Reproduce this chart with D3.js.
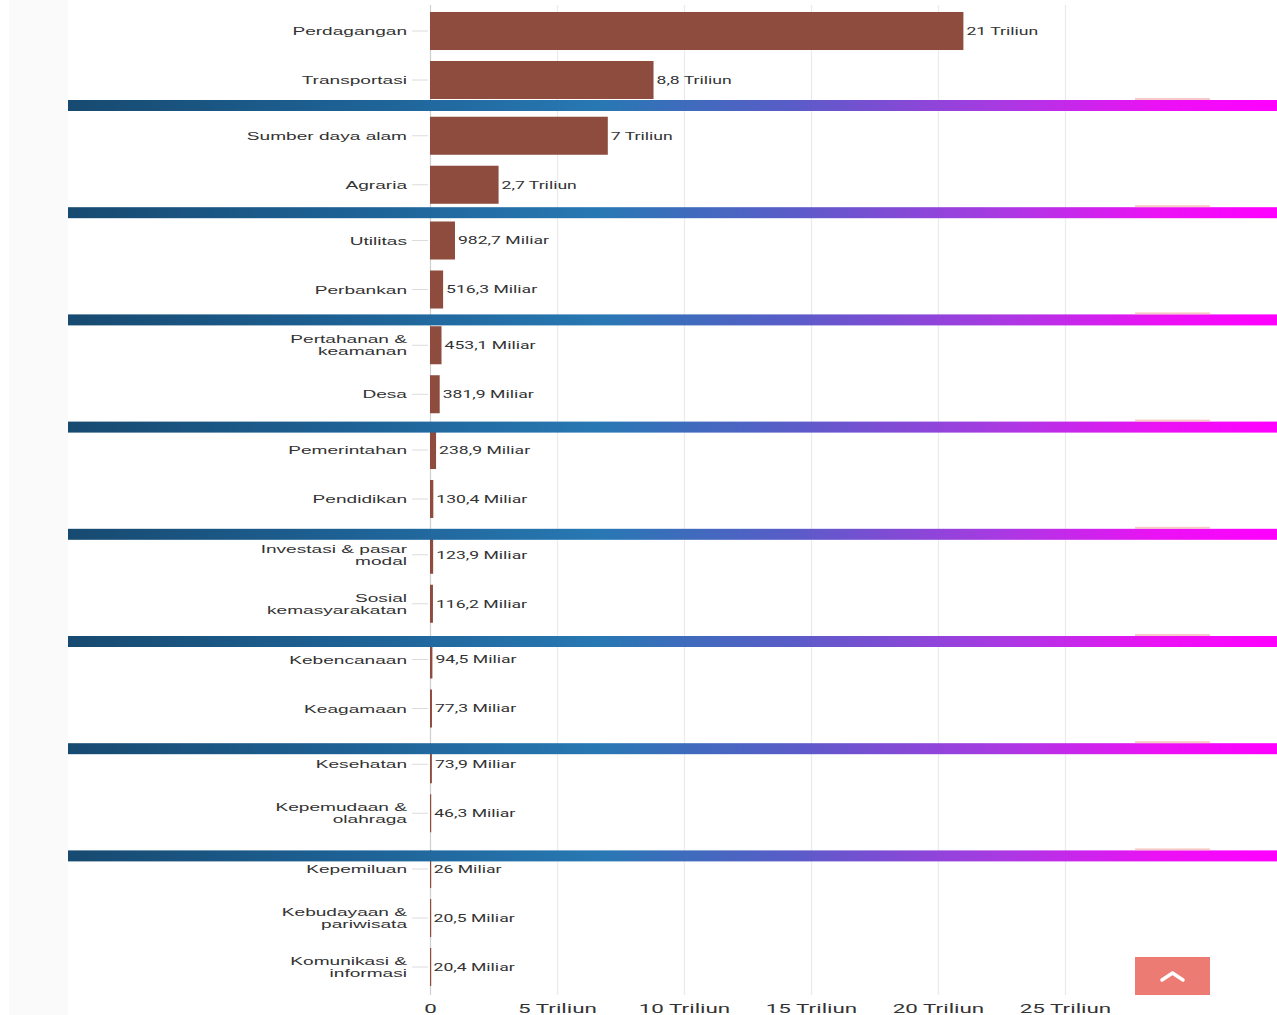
<!DOCTYPE html>
<html>
<head>
<meta charset="utf-8">
<script src="https://cdn.jsdelivr.net/npm/d3@7/dist/d3.min.js"></script>
<style>
  html, body { margin: 0; padding: 0; background: #ffffff; }
  svg { display: block; }
</style>
</head>
<body>
<svg id="chart" width="1277" height="1015"></svg>
<script>
// ---- data ----
const categories = [
  "Perdagangan", "Transportasi", "Sumber daya alam", "Agraria", "Utilitas",
  "Perbankan", "Pertahanan & keamanan", "Desa", "Pemerintahan", "Pendidikan",
  "Investasi & pasar modal", "Sosial kemasyarakatan", "Kebencanaan", "Keagamaan",
  "Kesehatan", "Kepemudaan & olahraga", "Kepemiluan", "Kebudayaan & pariwisata",
  "Komunikasi & informasi"
];
const categoryLines = [
  ["Perdagangan"], ["Transportasi"], ["Sumber daya alam"], ["Agraria"], ["Utilitas"],
  ["Perbankan"], ["Pertahanan &", "keamanan"], ["Desa"], ["Pemerintahan"], ["Pendidikan"],
  ["Investasi & pasar", "modal"], ["Sosial", "kemasyarakatan"], ["Kebencanaan"], ["Keagamaan"],
  ["Kesehatan"], ["Kepemudaan &", "olahraga"], ["Kepemiluan"], ["Kebudayaan &", "pariwisata"],
  ["Komunikasi &", "informasi"]
];
// values in Triliun
const values = [21, 8.8, 7, 2.7, 0.9827, 0.5163, 0.4531, 0.3819, 0.2389, 0.1304,
  0.1239, 0.1162, 0.0945, 0.0773, 0.0739, 0.0463, 0.026, 0.0205, 0.0204];
const valueLabels = ["21 Triliun", "8,8 Triliun", "7 Triliun", "2,7 Triliun", "982,7 Miliar",
  "516,3 Miliar", "453,1 Miliar", "381,9 Miliar", "238,9 Miliar", "130,4 Miliar",
  "123,9 Miliar", "116,2 Miliar", "94,5 Miliar", "77,3 Miliar", "73,9 Miliar",
  "46,3 Miliar", "26 Miliar", "20,5 Miliar", "20,4 Miliar"];
const xTicks = [0, 5, 10, 15, 20, 25];
const xTickLabels = ["0", "5 Triliun", "10 Triliun", "15 Triliun", "20 Triliun", "25 Triliun"];

// ---- layout ----
const svg = d3.select("#chart");
const W = 1277, H = 1015;
const x = d3.scaleLinear().domain([0, 25]).range([430, 1065]);
const band = d3.scaleBand().domain(categories).range([6.5, 6.5 + 19 * 49]).paddingInner(0.224).paddingOuter(0.112);
const groupGap = 6.75;
const yTop = c => band(c) + Math.min(8, Math.floor(categories.indexOf(c) / 2)) * groupGap;
const yMid = c => yTop(c) + band.bandwidth() / 2;

// background strip on left
svg.append("rect").attr("x", 0).attr("y", 0).attr("width", W).attr("height", H).attr("fill", "#ffffff");
svg.append("rect").attr("x", 9).attr("y", 0).attr("width", 59).attr("height", H).attr("fill", "#fafafa");

// grid lines
const gridG = svg.append("g").attr("transform", "translate(0,995)")
  .call(d3.axisBottom(x).tickValues(xTicks).tickSize(-990).tickFormat(""));
gridG.select(".domain").remove();
gridG.selectAll(".tick line").attr("stroke", "#ebebeb").attr("stroke-width", 1.2);
gridG.selectAll(".tick").filter(d => d === 0).select("line").attr("stroke", "#cfcfcf");

// category ticks
svg.append("g").selectAll("line").data(categories).join("line")
  .attr("x1", 412).attr("x2", 428)
  .attr("y1", d => yMid(d)).attr("y2", d => yMid(d))
  .attr("stroke", "#dcdcdc").attr("stroke-width", 1);

// bars
svg.append("g").selectAll("rect").data(categories).join("rect")
  .attr("x", x(0))
  .attr("y", d => yTop(d))
  .attr("width", (d, i) => Math.max(1.2, x(values[i]) - x(0)))
  .attr("height", band.bandwidth())
  .attr("fill", "#8d4c3d");

// value labels
svg.append("g").selectAll("text").data(categories).join("text")
  .attr("transform", (d, i) => `translate(${x(values[i]) + 3},${yMid(d)}) scale(1.6,1)`)
  .attr("dy", "0.35em")
  .attr("font-family", "Roboto, 'Liberation Sans', sans-serif")
  .attr("font-size", 11)
  .attr("fill", "#333")
  .text((d, i) => valueLabels[i]);

// category labels
const catG = svg.append("g").selectAll("text").data(categories).join("text")
  .attr("transform", d => `translate(407,${yMid(d)}) scale(1.66,1)`)
  .attr("text-anchor", "end")
  .attr("font-family", "'Liberation Sans', Arial, sans-serif")
  .attr("font-size", 11.5)
  .attr("fill", "#333");
catG.each(function(d, i) {
  const lines = categoryLines[i];
  const t = d3.select(this);
  lines.forEach((ln, j) => {
    t.append("tspan").attr("x", 0)
      .attr("y", (j - (lines.length - 1) / 2) * 12)
      .attr("dy", "0.35em")
      .text(ln);
  });
});

// x axis labels
const axG = svg.append("g").attr("transform", "translate(0,1000)")
  .call(d3.axisBottom(x).tickValues(xTicks).tickSize(0).tickPadding(0)
    .tickFormat((d, i) => xTickLabels[i]));
axG.select(".domain").remove();
axG.selectAll("text")
  .attr("font-family", "Roboto, 'Liberation Sans', sans-serif")
  .attr("font-size", 13.5)
  .attr("fill", "#333")
  .attr("dy", "0.95em")
  .attr("transform", "scale(1.66,1)");

// gradient separator bands (stitched header)
const defs = svg.append("defs");
const grad = defs.append("linearGradient").attr("id", "sepGrad")
  .attr("gradientUnits", "userSpaceOnUse").attr("x1", 68).attr("x2", 1277).attr("y1", 0).attr("y2", 0);
[[0, "#174a70"], [0.22, "#1d6093"], [0.44, "#2878b3"], [0.6, "#5a5cc8"], [0.77, "#a83ae2"], [0.9, "#ea12f4"], [1, "#ff00ff"]]
  .forEach(s => grad.append("stop").attr("offset", s[0]).attr("stop-color", s[1]));
const bandCount = 8;
const bandYs = d3.range(bandCount).map(k => 105.5 + k * 107.2);
svg.append("g").selectAll("rect").data(bandYs).join("rect")
  .attr("x", 68).attr("width", W - 68)
  .attr("y", d => d - 5.5).attr("height", 11)
  .attr("fill", "url(#sepGrad)");
svg.append("g").selectAll("rect").data(bandYs).join("rect")
  .attr("x", 1135).attr("width", 75)
  .attr("y", d => d - 7.5).attr("height", 2)
  .attr("fill", "#f2a7a2").attr("opacity", 0.6);

// scroll-to-top button
svg.append("rect").attr("x", 1135).attr("y", 957).attr("width", 75).attr("height", 38).attr("fill", "#ec7c73");
svg.append("path").attr("d", "M1162,980 L1172.5,973 L1183,980")
  .attr("fill", "none").attr("stroke", "#ffffff").attr("stroke-width", 3.5).attr("stroke-linecap", "round").attr("stroke-linejoin", "round");
</script>
</body>
</html>
